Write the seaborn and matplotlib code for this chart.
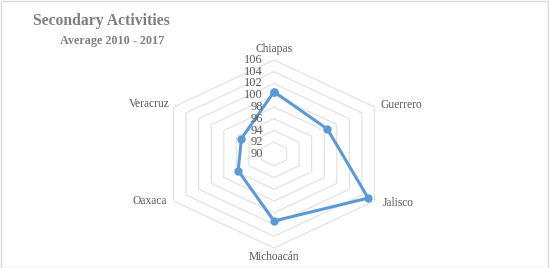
import numpy as np
import pandas as pd
import matplotlib
matplotlib.use("Agg")
import matplotlib.pyplot as plt
import matplotlib.transforms as mtransforms
from matplotlib.patches import Rectangle
import seaborn as sns

# ---- data ----
states = ["Chiapas", "Guerrero", "Jalisco", "Michoacán", "Oaxaca", "Veracruz"]
values = [100.6, 98.5, 105.0, 101.4, 95.7, 95.2]
ticks = [90, 92, 94, 96, 98, 100, 102, 104, 106]
title = "Secondary Activities"
subtitle = "Average 2010 - 2017"

sns.set_style("white")
plt.rcParams["font.family"] = ["Liberation Serif", "DejaVu Serif"]

W, H = 549, 268
fig = plt.figure(figsize=(W / 100, H / 100), dpi=100)
fig.patch.set_facecolor("white")

cx, cy = 274, 154
Rh, Rv = 116, 94
ax = fig.add_axes([(cx - Rh) / W, (H - cy - Rv) / H, 2 * Rh / W, 2 * Rv / H],
                  projection="polar")
ax.set_aspect("auto")
ax.set_theta_zero_location("N")
ax.set_theta_direction(-1)
ax.set_ylim(ticks[0], ticks[-1])
ax.grid(False)
ax.spines["polar"].set_visible(False)
ax.set_facecolor("none")

n = len(states)
angles = np.linspace(0, 2 * np.pi, n, endpoint=False)
ang_closed = np.append(angles, angles[0])

# hexagonal grid rings
for t in ticks[1:]:
    ax.plot(ang_closed, [t] * (n + 1), color="#e3e3e3", lw=0.9, zorder=1)

df = pd.DataFrame({"theta": ang_closed, "value": values + [values[0]]})
sns.lineplot(data=df, x="theta", y="value", sort=False, ax=ax, color="#5b9bd5",
             lw=2.2, marker="o", markersize=6, markeredgewidth=0,
             estimator=None, zorder=3)
ax.set_xlabel("")
ax.set_ylabel("")
ax.set_xticks([])
ax.set_yticks([])
ax.set_ylim(ticks[0], ticks[-1])

# radial tick labels
off = mtransforms.offset_copy(ax.transData, fig=fig, x=-11, y=0, units="dots")
for t in ticks:
    ax.text(0, t, str(t), transform=off, ha="right", va="center",
            fontsize=9, color="#595959", zorder=4)

# category labels
offsets = [(0, 11, "center", "center"), (6, 2, "left", "center"),
           (8, -2, "left", "center"), (0, -9, "center", "center"),
           (-7, 0, "right", "center"), (-4, 3, "right", "center")]
for a, s, (dx, dy, ha, va) in zip(angles, states, offsets):
    tr = mtransforms.offset_copy(ax.transData, fig=fig, x=dx, y=dy, units="dots")
    ax.text(a, ticks[-1], s, transform=tr, ha=ha, va=va, fontsize=8.3,
            color="#595959", clip_on=False)

fig.text(33 / W, 1 - 21 / H, title, ha="left", va="center", fontsize=11.3,
         fontweight="bold", color="#7f7f7f")
fig.text(60 / W, 1 - 41 / H, subtitle, ha="left", va="center", fontsize=8.7,
         fontweight="bold", color="#7f7f7f")

fig.patches.append(Rectangle((0.5 / W, 0.5 / H), 1 - 1.5 / W, 1 - 1.5 / H,
                             transform=fig.transFigure, fill=False,
                             edgecolor="#d9d9d9", lw=1.0))

fig.savefig("out.png", dpi=100, facecolor="white")
